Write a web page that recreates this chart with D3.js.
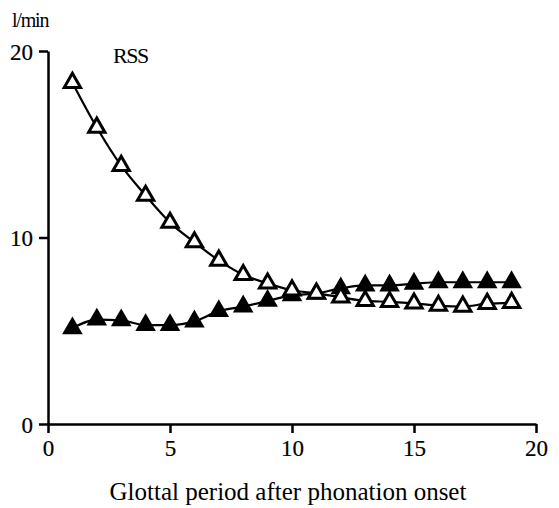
<!DOCTYPE html>
<html>
<head>
    <script src="https://d3js.org/d3.v7.min.js"></script>
    <style>
        body { margin: 0; background: #fff; }
        svg text { font-family: "Liberation Serif", serif; }
    </style>
</head>
<body>
    <svg width="559" height="508" id="mainSvg"></svg>
    <script>
        const periods = [1, 2, 3, 4, 5, 6, 7, 8, 9, 10, 11, 12, 13, 14, 15, 16, 17, 18, 19];
        const openValues = [18.3, 15.9, 13.85, 12.25, 10.8, 9.75, 8.77, 8.0, 7.54, 7.17, 7.0, 6.8, 6.6, 6.55, 6.47, 6.35, 6.3, 6.45, 6.5];
        const filledValues = [5.13, 5.6, 5.56, 5.3, 5.3, 5.5, 6.05, 6.3, 6.6, 6.9, 7.0, 7.27, 7.43, 7.43, 7.52, 7.6, 7.6, 7.6, 7.6];
        const xTicks = [0, 5, 10, 15, 20];
        const yTicks = [0, 10, 20];

        const serif = '"Liberation Serif", serif';
        const svg = d3.select("#mainSvg");
        const x = d3.scaleLinear().domain([0, 20]).range([48, 536]);
        const y = d3.scaleLinear().domain([0, 20]).range([424, 51]);

        // axes
        const xAxis = svg.append("g")
            .attr("transform", `translate(0, ${y(0)})`)
            .call(d3.axisBottom(x).tickValues(xTicks).tickSize(9).tickSizeOuter(0).tickPadding(7));
        const yAxis = svg.append("g")
            .attr("transform", `translate(${x(0)}, 0)`)
            .call(d3.axisLeft(y).tickValues(yTicks).tickSize(9).tickSizeOuter(0).tickPadding(6));

        [xAxis, yAxis].forEach(a => {
            a.attr("font-family", serif).attr("font-size", 23);
            a.select(".domain").attr("stroke", "#000").attr("stroke-width", 2.5);
            a.selectAll(".tick line").attr("stroke", "#000").attr("stroke-width", 2.5);
            a.selectAll(".tick text")
                .style("font-family", serif).style("font-size", "23px")
                .attr("fill", "#000").attr("stroke", "#000").attr("stroke-width", 0.2);
        });
        yAxis.selectAll(".tick text").attr("dy", "0.35em");

        const line = d3.line()
            .x((d, i) => x(periods[i]))
            .y(d => y(d))
            .curve(d3.curveMonotoneX);

        svg.append("path").datum(openValues)
            .attr("d", line).attr("fill", "none").attr("stroke", "#000").attr("stroke-width", 2.2);
        svg.append("path").datum(filledValues)
            .attr("d", line).attr("fill", "none").attr("stroke", "#000").attr("stroke-width", 2.2);

        const tri = d3.symbol().type(d3.symbolTriangle).size(115);

        svg.append("g").selectAll("path").data(filledValues).join("path")
            .attr("d", tri)
            .attr("transform", (d, i) => `translate(${x(periods[i])}, ${y(d)})`)
            .attr("fill", "#000").attr("stroke", "#000").attr("stroke-width", 2.5);

        svg.append("g").selectAll("path").data(openValues).join("path")
            .attr("d", tri)
            .attr("transform", (d, i) => `translate(${x(periods[i])}, ${y(d)})`)
            .attr("fill", "#fff").attr("stroke", "#000").attr("stroke-width", 3);

        // labels
        svg.append("text").attr("x", 12).attr("y", 27)
            .style("font-family", serif).style("font-size", "20px")
            .attr("letter-spacing", "-1.2")
            .text("l/min");
        svg.append("text").attr("x", 113).attr("y", 63)
            .style("font-family", serif).style("font-size", "22px")
            .attr("letter-spacing", "-1.5")
            .text("RSS");
        svg.append("text").attr("x", 288).attr("y", 500)
            .attr("text-anchor", "middle")
            .style("font-family", serif).style("font-size", "25px")
            .text("Glottal period after phonation onset");
    </script>
</body>
</html>
